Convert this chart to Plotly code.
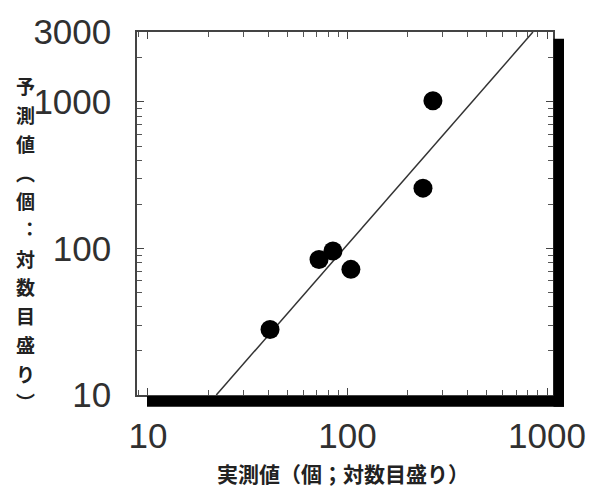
import plotly.graph_objects as go

# Data (log-log)
actual = [40.9, 72, 84.5, 104, 239, 268]        # 実測値
predicted = [28, 84, 96, 72, 258, 1020]        # 予測値
fit_x = [22, 850]                                # regression line endpoints (x)
fit_y = [10, 3000]                               # regression line endpoints (y)
x_ticks = [10, 100, 1000]
y_ticks = [10, 100, 1000, 3000]

x_title = "実測値（個；対数目盛り）"
y_title_chars = ["予", "測", "値", "︵", "個", "︓", "対", "数", "目", "盛", "り", "︶"]

W, H = 615, 493
L, R, T, B = 137, 62, 25, 98
pw, ph = W - L - R, H - T - B

def px_x(p):
    return (p - L) / pw

def px_y(p):
    return (H - B - p) / ph

fig = go.Figure()
fig.add_trace(go.Scatter(x=fit_x, y=fit_y, mode="lines",
                         line=dict(color="#333333", width=1.5),
                         hoverinfo="skip", showlegend=False))
fig.add_trace(go.Scatter(x=actual, y=predicted, mode="markers",
                         marker=dict(color="black", size=19, symbol="circle"),
                         showlegend=False))

tickfont = dict(family="Liberation Sans, Arial, sans-serif", size=35, color="#303030")

fig.update_xaxes(type="log", range=[0.945, 3.03],
                 tickvals=x_ticks, ticktext=[str(v) for v in x_ticks],
                 ticks="inside", ticklen=7, tickcolor="#444", tickwidth=1,
                 minor=dict(ticks="inside", ticklen=5, dtick="D1", tickcolor="#555", tickwidth=1),
                 showline=True, linecolor="#444", linewidth=1.5, mirror="ticks",
                 showgrid=False, zeroline=False, tickfont=tickfont,
                 ticklabelstandoff=9)
fig.update_yaxes(type="log", range=[1, 3.4771],
                 tickvals=y_ticks, ticktext=[str(v) for v in y_ticks],
                 ticks="inside", ticklen=7, tickcolor="#444", tickwidth=1,
                 minor=dict(ticks="inside", ticklen=5, dtick="D1", tickcolor="#555", tickwidth=1),
                 showline=True, linecolor="#444", linewidth=1.5, mirror="ticks",
                 showgrid=False, zeroline=False, tickfont=tickfont,
                 ticklabelstandoff=17)

# Thick black drop-shadow bars at bottom and right
fig.add_shape(type="rect", xref="paper", yref="paper",
              x0=px_x(147), x1=px_x(564), y0=px_y(407), y1=px_y(396),
              fillcolor="black", line=dict(width=0), layer="above")
fig.add_shape(type="rect", xref="paper", yref="paper",
              x0=px_x(553.5), x1=px_x(564), y0=px_y(407), y1=px_y(32),
              fillcolor="black", line=dict(width=0), layer="above")

titlefont = dict(family="Noto Sans CJK JP, sans-serif", size=21, color="#222222", weight="bold")
vfont = dict(family="Noto Sans CJK JP, sans-serif", size=19, color="#222222", weight="bold")

fig.add_annotation(text=x_title, xref="paper", yref="paper",
                   x=px_x(343), y=px_y(475), xanchor="center", yanchor="middle",
                   showarrow=False, font=titlefont)

# vertical (tategaki) y-axis title, one character per line
n = len(y_title_chars)
y_top, y_bot = 80, 402
for i, ch in enumerate(y_title_chars):
    yp = y_top + (y_bot - y_top) * i / (n - 1)
    fig.add_annotation(text=ch, xref="paper", yref="paper",
                       x=px_x(25), y=px_y(yp), xanchor="center", yanchor="middle",
                       showarrow=False, font=vfont)

fig.update_layout(width=W, height=H,
                  margin=dict(l=L, r=R, t=T, b=B),
                  paper_bgcolor="white", plot_bgcolor="white")

fig.write_html("out.html")
